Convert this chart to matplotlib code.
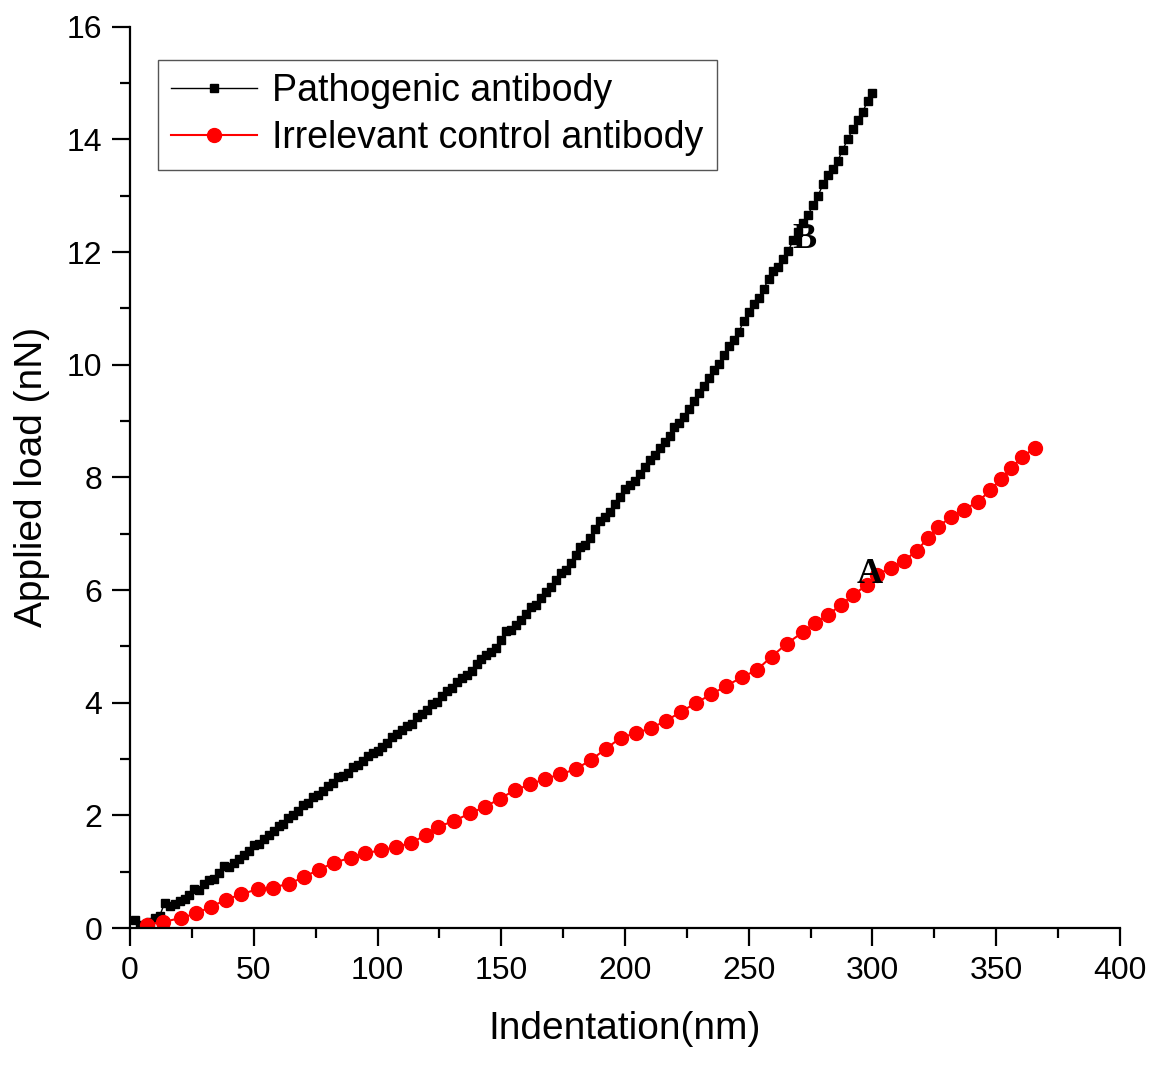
import matplotlib
matplotlib.use("Agg")
import matplotlib.pyplot as plt
from matplotlib.ticker import MultipleLocator

plt.rcParams["font.family"] = ["Liberation Sans", "DejaVu Sans"]

# Pathogenic antibody (black, dense squares)
black_x = [2, 4, 6, 8, 10, 12, 14, 16, 18, 20, 22, 24, 26, 28, 30,
           32, 34, 36, 38, 40, 42, 44, 46, 48, 50, 52, 54, 56, 58, 60,
           62, 64, 66, 68, 70, 72, 74, 76, 78, 80, 82, 84, 86, 88, 90,
           92, 94, 96, 98, 100, 102, 104, 106, 108, 110, 112, 114, 116, 118, 120,
           122, 124, 126, 128, 130, 132, 134, 136, 138, 140, 142, 144, 146, 148, 150,
           152, 154, 156, 158, 160, 162, 164, 166, 168, 170, 172, 174, 176, 178, 180,
           182, 184, 186, 188, 190, 192, 194, 196, 198, 200, 202, 204, 206, 208, 210,
           212, 214, 216, 218, 220, 222, 224, 226, 228, 230, 232, 234, 236, 238, 240,
           242, 244, 246, 248, 250, 252, 254, 256, 258, 260, 262, 264, 266, 268, 270,
           272, 274, 276, 278, 280, 282, 284, 286, 288, 290, 292, 294, 296, 298, 300]
black_y = [0.15, 0.05, 0.03, 0.10, 0.18, 0.22, 0.45, 0.40, 0.42, 0.48, 0.52, 0.58, 0.70, 0.68, 0.78,
           0.85, 0.88, 0.98, 1.10, 1.08, 1.15, 1.22, 1.30, 1.36, 1.48, 1.50, 1.58, 1.66, 1.72, 1.82,
           1.85, 1.95, 2.00, 2.08, 2.18, 2.22, 2.32, 2.36, 2.44, 2.52, 2.58, 2.68, 2.70, 2.76, 2.86,
           2.90, 2.96, 3.06, 3.10, 3.14, 3.22, 3.28, 3.40, 3.44, 3.52, 3.58, 3.62, 3.74, 3.80, 3.88,
           3.98, 4.02, 4.12, 4.20, 4.26, 4.36, 4.44, 4.50, 4.56, 4.68, 4.78, 4.84, 4.90, 4.98, 5.12,
           5.28, 5.30, 5.38, 5.46, 5.58, 5.70, 5.74, 5.86, 5.96, 6.06, 6.18, 6.30, 6.36, 6.48, 6.62,
           6.76, 6.80, 6.92, 7.08, 7.22, 7.30, 7.38, 7.52, 7.66, 7.80, 7.86, 7.94, 8.06, 8.18, 8.30,
           8.40, 8.52, 8.62, 8.74, 8.90, 8.96, 9.08, 9.22, 9.36, 9.50, 9.62, 9.76, 9.90, 10.02, 10.18,
           10.34, 10.44, 10.58, 10.78, 10.94, 11.08, 11.18, 11.34, 11.52, 11.66, 11.74, 11.88, 12.02, 12.22, 12.36,
           12.52, 12.66, 12.84, 13.00, 13.20, 13.36, 13.48, 13.62, 13.82, 14.00, 14.18, 14.34, 14.48, 14.68, 14.82]

# Irrelevant control antibody (red circles)
red_x = [6.7, 13.5, 20.6, 26.7, 32.7, 38.7, 44.7, 51.6, 57.7, 64.4, 70.4, 76.4, 82.4, 89.2, 95.0,
         101.3, 107.4, 113.4, 119.5, 124.5, 130.9, 137.4, 143.4, 149.5, 155.6, 161.7, 167.8, 173.9, 180.0, 186.1,
         192.2, 198.3, 204.4, 210.5, 216.6, 222.7, 228.8, 234.9, 241.0, 247.1, 253.2, 259.3, 265.4, 271.8, 276.8,
         282.1, 287.3, 292.2, 297.6, 301.7, 307.3, 312.9, 317.8, 322.5, 326.3, 331.6, 337.0, 342.8, 347.5, 352.0,
         356.0, 360.6, 365.7]
red_y = [0.06, 0.11, 0.18, 0.26, 0.38, 0.50, 0.60, 0.69, 0.72, 0.79, 0.91, 1.04, 1.16, 1.25, 1.33,
         1.38, 1.44, 1.51, 1.65, 1.80, 1.90, 2.04, 2.15, 2.30, 2.45, 2.55, 2.65, 2.73, 2.82, 2.98,
         3.18, 3.38, 3.46, 3.55, 3.68, 3.84, 4.00, 4.15, 4.30, 4.45, 4.58, 4.82, 5.05, 5.25, 5.42,
         5.56, 5.74, 5.91, 6.09, 6.27, 6.39, 6.52, 6.70, 6.92, 7.12, 7.29, 7.43, 7.57, 7.77, 7.97,
         8.16, 8.36, 8.53]

fig = plt.figure(figsize=(11.51, 10.68), dpi=100)
ax = fig.add_axes([0.113, 0.131, 0.860, 0.844])

ax.plot(black_x, black_y, color="black", lw=1.0, marker="s", ms=5.5,
        label="Pathogenic antibody")
ax.plot(red_x, red_y, color="red", lw=1.5, marker="o", ms=10,
        label="Irrelevant control antibody")

ax.text(272.7, 12.22, "B", family="Liberation Serif", fontweight="bold",
        fontsize=26, ha="center", va="center")
ax.text(299, 6.27, "A", family="Liberation Serif", fontweight="bold",
        fontsize=26, ha="center", va="center")

ax.set_xlim(0, 400)
ax.set_ylim(0, 16)
ax.xaxis.set_major_locator(MultipleLocator(50))
ax.xaxis.set_minor_locator(MultipleLocator(25))
ax.yaxis.set_major_locator(MultipleLocator(2))
ax.yaxis.set_minor_locator(MultipleLocator(1))
ax.tick_params(which="major", direction="out", length=13, width=1.6, labelsize=23, pad=7)
ax.tick_params(which="minor", direction="out", length=7, width=1.6)
ax.spines["top"].set_visible(False)
ax.spines["right"].set_visible(False)
ax.spines["left"].set_linewidth(1.6)
ax.spines["bottom"].set_linewidth(1.6)

ax.set_xlabel("Indentation(nm)", fontsize=28, labelpad=18)
ax.set_ylabel("Applied load (nN)", fontsize=28, labelpad=12)

leg = ax.legend(loc="upper left", bbox_to_anchor=(0.028, 0.963), fontsize=27,
                numpoints=1, handlelength=2.3, handletextpad=0.4, fancybox=False,
                framealpha=1, borderaxespad=0, borderpad=0.35, labelspacing=0.3)
leg.get_frame().set_edgecolor("#555555")
leg.get_frame().set_linewidth(1.0)

fig.savefig("out.png", dpi=100)
